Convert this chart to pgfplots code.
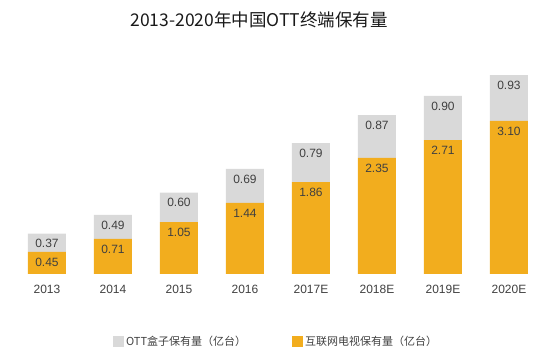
\documentclass[border=0pt]{standalone}
\usepackage{pgfplots}
\pgfplotsset{compat=1.18}
\usepackage{pgfplotstable}
\usepackage{fontspec}
\setmainfont{Liberation Sans}
\newfontfamily\cjk{Noto Sans CJK SC}
\definecolor{barorange}{HTML}{F2AD1E}
\definecolor{bargray}{HTML}{D9D9D9}
\definecolor{lbl}{HTML}{404040}
\pgfplotstableread{
x tv box
0 0.45 0.37
1 0.71 0.49
2 1.05 0.60
3 1.44 0.69
4 1.86 0.79
5 2.35 0.87
6 2.71 0.90
7 3.10 0.93
}\datatable
\begin{document}
\begin{tikzpicture}
\path[use as bounding box] (0,0) rectangle (560pt,355pt);
\node[font=\cjk\fontsize{17.5}{20}\selectfont, text=black!90] at (259pt,335pt) {2013-2020年中国OTT终端保有量};
\begin{axis}[
  at={(0pt,81pt)}, anchor=south west,
  scale only axis, width=560pt, height=234pt,
  xmin=-0.712, xmax=7.773, ymin=0, ymax=4.74,
  axis lines=none,
  ybar stacked, bar width=38pt,
  legend style={at={(axis description cs:0.493,-0.29)}, anchor=center, draw=none, fill=none,
    legend columns=2, font=\cjk\fontsize{11}{13}\selectfont, text=lbl,
    /tikz/every even column/.append style={column sep=44pt},
    legend cell align=left},
  legend image code/.code={\fill[#1] (0pt,-5.5pt) rectangle (11pt,5.5pt);},
  reverse legend,
]
\addplot[fill=barorange, draw=none] table[x=x, y=tv] {\datatable};
\addplot[fill=bargray, draw=none] table[x=x, y=box] {\datatable};
\legend{互联网电视保有量（亿台）, OTT盒子保有量（亿台）}
\end{axis}
\begin{axis}[
  at={(0pt,81pt)}, anchor=south west,
  scale only axis, width=560pt, height=234pt,
  xmin=-0.712, xmax=7.773, ymin=0, ymax=4.74,
  axis x line*=bottom, axis y line=none, x axis line style={draw=none},
  xtick={0,...,7}, major tick length=0pt,
  xticklabels={2013,2014,2015,2016,2017E,2018E,2019E,2020E},
  xticklabel style={font=\fontsize{12}{14}\selectfont, text=lbl, yshift=-8pt},
  /pgf/number format/assume math mode=true,
  /pgf/number format/fixed, /pgf/number format/fixed zerofill, /pgf/number format/precision=2,
  every node near coord/.style={anchor=north, yshift=-2.5pt, font=\fontsize{12}{14}\selectfont, text=lbl},
]
\addplot[draw=none, mark=none, point meta=explicit, nodes near coords] table[x=x, y=tv, meta=tv] {\datatable};
\addplot[draw=none, mark=none, point meta=explicit, nodes near coords] table[x=x, y expr=\thisrow{tv}+\thisrow{box}, meta=box] {\datatable};
\end{axis}
\end{tikzpicture}
\end{document}
